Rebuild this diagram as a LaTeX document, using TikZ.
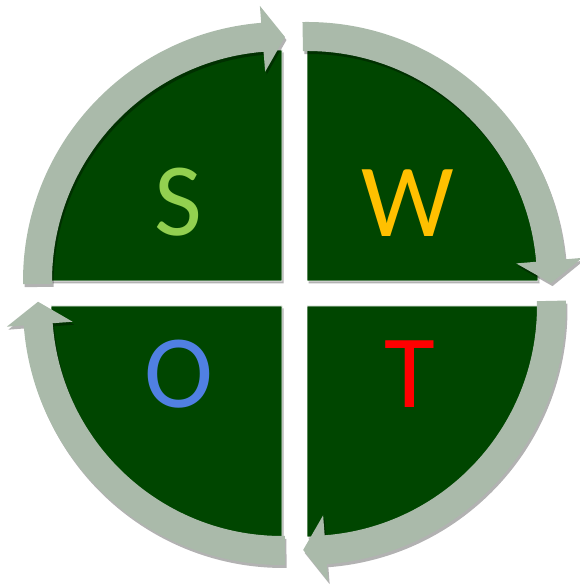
\documentclass[tikz,border=0pt]{standalone}
\usepackage{fontspec}
\newfontfamily\swotfont{Carlito}
\usetikzlibrary{shadows}
\definecolor{quadgreen}{RGB}{0,70,0}
\definecolor{bandgray}{RGB}{170,186,170}
\definecolor{sgreen}{RGB}{146,208,80}
\definecolor{wyellow}{RGB}{255,192,0}
\definecolor{oblue}{RGB}{80,128,226}
\definecolor{tred}{RGB}{255,0,0}
\tikzset{
  quad/.style={fill=quadgreen, draw=white, line width=0.8pt,
    drop shadow={shadow xshift=1.5pt, shadow yshift=-2.5pt, opacity=0.3, fill=black}},
  band/.style={fill=bandgray,
    drop shadow={shadow xshift=1.5pt, shadow yshift=-3pt, opacity=0.3, fill=black}},
  letter/.style={anchor=base, inner sep=0pt, font=\swotfont\fontsize{104pt}{104pt}\selectfont}
}
\begin{document}
\begin{tikzpicture}
\useasboundingbox (0pt,0pt) rectangle (579pt,588pt);
% quadrants
\path[quad] (282pt,307pt) -- ++(180:231pt) arc[start angle=180, end angle=90, radius=231pt] -- cycle;
\path[quad] (307pt,307pt) -- ++(90:231pt) arc[start angle=90, end angle=0, radius=231pt] -- cycle;
\path[quad] (307pt,282pt) -- ++(0:231pt) arc[start angle=0, end angle=-90, radius=231pt] -- cycle;
\path[quad] (282pt,282pt) -- ++(270:231pt) arc[start angle=270, end angle=180, radius=231pt] -- cycle;
% arrows
\begin{scope}[shift={(282pt,307pt)}]
\path[band] (180.7:230pt) -- (180.7:259pt) arc[start angle=180.7, end angle=94.6, radius=259pt]
  -- (94.6:276pt) -- (89.3:244pt) -- (94.6:210pt) -- (94.6:230pt)
  arc[start angle=94.6, end angle=180.7, radius=230pt] -- cycle;
\end{scope}
\begin{scope}[shift={(307pt,307pt)}]
\path[band] (91:230pt) -- (91:259pt) arc[start angle=91, end angle=4.8, radius=259pt]
  -- (4.8:276pt) -- (-0.5:244pt) -- (4.8:210pt) -- (4.8:230pt)
  arc[start angle=4.8, end angle=91, radius=230pt] -- cycle;
\end{scope}
\begin{scope}[shift={(307pt,282pt)}]
\path[band] (1.2:230pt) -- (1.2:259pt) arc[start angle=1.2, end angle=-85.6, radius=259pt]
  -- (-85.6:276pt) -- (-90.9:244pt) -- (-85.6:210pt) -- (-85.6:230pt)
  arc[start angle=-85.6, end angle=1.2, radius=230pt] -- cycle;
\end{scope}
\begin{scope}[shift={(282pt,282pt)}]
\path[band] (270.7:230pt) -- (270.7:259pt) arc[start angle=270.7, end angle=184.3, radius=259pt]
  -- (184.3:276pt) -- (179:244pt) -- (184.3:210pt) -- (184.3:230pt)
  arc[start angle=184.3, end angle=270.7, radius=230pt] -- cycle;
\end{scope}
% letters
\node[letter, text=sgreen] (S) at (178pt,352pt) {S};
\node[letter, text=wyellow] (W) at (408pt,351pt) {W};
\node[letter, text=oblue] (O) at (179pt,180pt) {O};
\node[letter, text=tred] (T) at (410pt,180pt) {T};
\end{tikzpicture}
\end{document}
